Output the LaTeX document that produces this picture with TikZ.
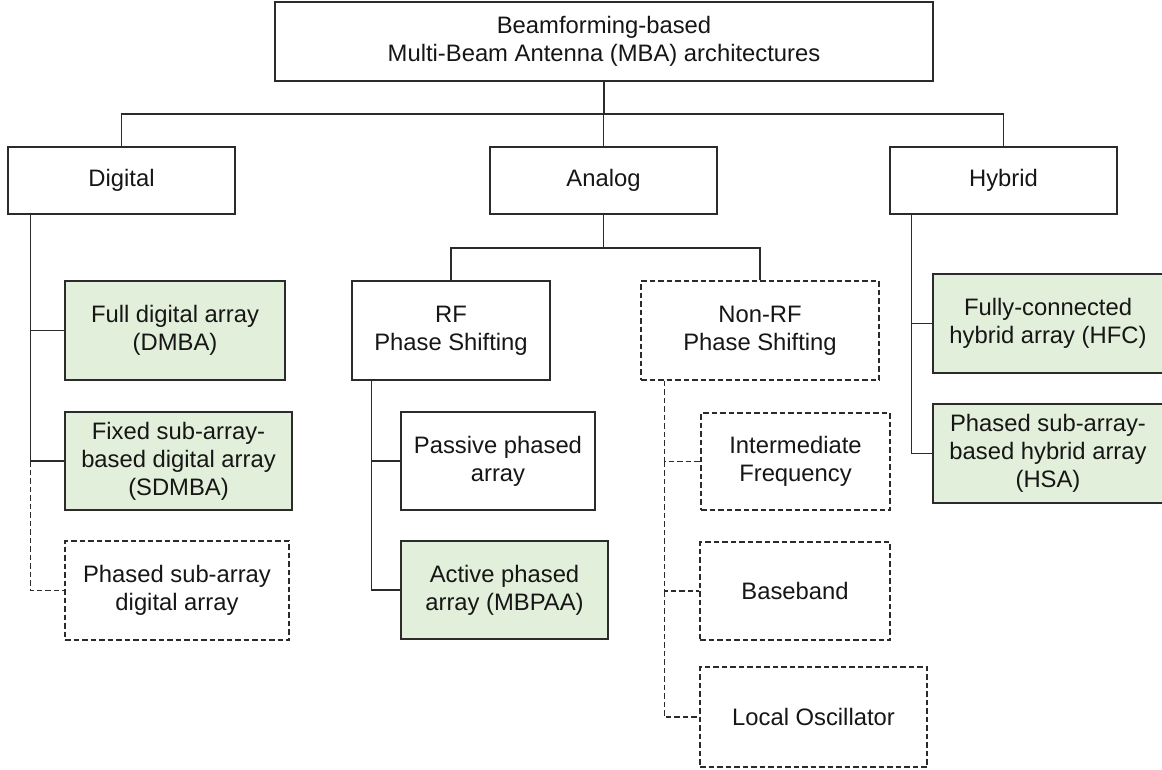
\documentclass[tikz,border=0pt]{standalone}
\usepackage{fontspec}
\setmainfont{Liberation Sans}
\definecolor{linec}{HTML}{2B2B2B}
\definecolor{txt}{HTML}{161616}
\definecolor{leaf}{HTML}{E2EFDA}
\begin{document}
\begin{tikzpicture}[x=1pt,y=-1pt,
  box/.style={draw=linec, line width=1.4pt, rectangle, inner sep=0pt,
    align=center, text=txt, font=\fontsize{23.8}{28}\selectfont},
  greenbox/.style={box, fill=leaf},
  dashbox/.style={box, dash pattern=on 5.5pt off 3pt},
  wire/.style={draw=linec, line width=1.4pt},
  dashwire/.style={wire, dash pattern=on 5.5pt off 3pt},
  sz/.style 2 args={minimum width=#1pt, minimum height=#2pt}]
\useasboundingbox (0,0) rectangle (1162,769);
\fill[white] (0,0) rectangle (1162,769);

% root
\node[box, sz={658}{79}] (root) at (604,41.5)
  {Beamforming-based\\Multi-Beam Antenna (MBA) architectures};

% first level
\node[box, sz={227}{67}] (digital) at (121.5,180.5) {Digital};
\node[box, sz={227}{67}] (analog) at (603.5,180.5) {Analog};
\node[box, sz={227}{67}] (hybrid) at (1003.5,180.5) {Hybrid};

% digital branch
\node[greenbox, sz={220}{99}] (dmba) at (175,330.5) {Full digital array\\(DMBA)};
\node[greenbox, sz={227}{98}] (sdmba) at (178.5,461) {Fixed sub-array-\\based digital array\\(SDMBA)};
\node[dashbox, sz={224}{99}] (psd) at (177,590.5) {Phased sub-array\\digital array};

% analog branch
\node[box, sz={198}{99}] (rf) at (451,330.5) {RF\\Phase Shifting};
\node[dashbox, sz={238}{99}] (nonrf) at (760,330.5) {Non-RF\\Phase Shifting};
\node[box, sz={194}{98}] (passive) at (498,461) {Passive phased\\array};
\node[greenbox, sz={207}{98}] (active) at (504.5,590) {Active phased\\array (MBPAA)};
\node[dashbox, sz={189}{97}] (ifreq) at (795.5,461.5) {Intermediate\\Frequency};
\node[dashbox, sz={190}{98}] (bb) at (795,591) {Baseband};
\node[dashbox, sz={227}{100}] (lo) at (813.5,717) {Local Oscillator};

% hybrid branch
\node[greenbox, sz={230}{99}] (hfc) at (1048,323.5) {Fully-connected\\hybrid array (HFC)};
\node[greenbox, sz={230}{99}] (hsa) at (1048,453.5) {Phased sub-array-\\based hybrid array\\(HSA)};

% root to first level
\coordinate (bus) at (0,114);
\draw[wire] (root.south) -- (root.south |- bus);
\draw[wire] (digital.north) -- (digital.north |- bus) -| (hybrid.north);
\draw[wire] (analog.north) -- (analog.north |- bus);

% analog to RF / non-RF
\coordinate (abus) at (0,248);
\draw[wire] (analog.south) -- (analog.south |- abus);
\draw[wire] (rf.north) -- (rf.north |- abus) -| (nonrf.north);

% digital trunk
\coordinate (dt) at ([xshift=23pt]digital.south west);
\draw[wire] (dt) |- (dmba.west);
\draw[wire] (dt) |- (sdmba.west);
\draw[dashwire] (dt |- sdmba.west) |- (psd.west);

% RF trunk
\coordinate (rt) at ([xshift=20pt]rf.south west);
\draw[wire] (rt) |- (passive.west);
\draw[wire] (rt) |- (active.west);

% non-RF trunk
\coordinate (nt) at ([xshift=24pt]nonrf.south west);
\draw[dashwire] (nt) |- (ifreq.west);
\draw[dashwire] (nt |- ifreq.west) |- (bb.west);
\draw[dashwire] (nt |- bb.west) |- (lo.west);

% hybrid trunk
\coordinate (ht) at ([xshift=22pt]hybrid.south west);
\draw[wire] (ht) |- (hfc.west);
\draw[wire] (ht) |- (hsa.west);
\end{tikzpicture}
\end{document}
